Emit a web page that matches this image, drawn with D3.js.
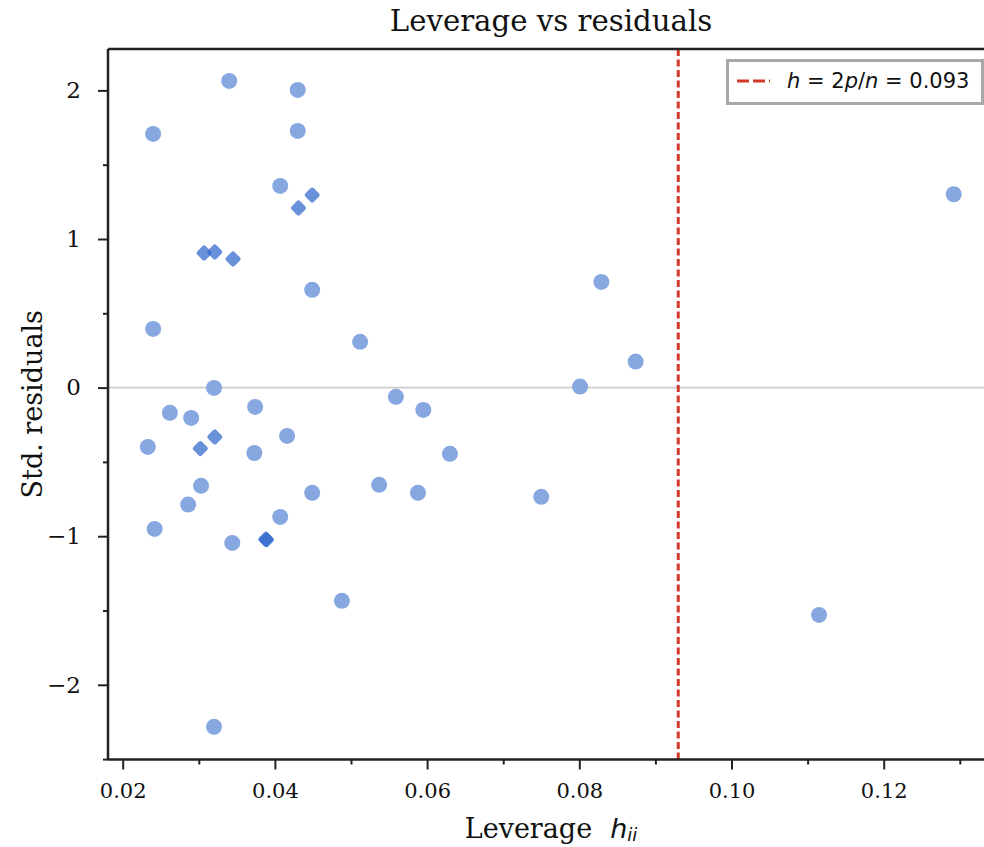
<!DOCTYPE html>
<html>
<head>
<meta charset="utf-8">
<script src="https://cdn.jsdelivr.net/npm/d3@7"></script>
<style>
  html, body { margin: 0; padding: 0; background: #fff; }
  svg { display: block; }
</style>
</head>
<body>
<div id="chart"></div>
<script>
// ---- data ----
const circleLeverage = [0.0340, 0.0430, 0.0240, 0.0430, 0.0407, 0.0449, 0.0240, 0.0512, 0.0829, 0.0874,
  0.0801, 0.1292, 0.0320, 0.0262, 0.0290, 0.0374, 0.0559, 0.0595, 0.0416, 0.0233,
  0.0373, 0.0630, 0.0303, 0.0449, 0.0537, 0.0588, 0.0750, 0.0286, 0.0242, 0.0407,
  0.0344, 0.0488, 0.0320, 0.1115];
const circleResidual = [2.064, 2.003, 1.707, 1.727, 1.357, 0.658, 0.395, 0.308, 0.711, 0.175,
  0.007, 1.301, -0.002, -0.170, -0.204, -0.130, -0.062, -0.150, -0.325, -0.399,
  -0.440, -0.446, -0.661, -0.708, -0.654, -0.708, -0.735, -0.787, -0.951, -0.870,
  -1.045, -1.435, -2.283, -1.530];
const diamondLeverage = [0.0449, 0.0431, 0.0307, 0.0321, 0.0345, 0.0321, 0.0302, 0.0388, 0.0389];
const diamondResidual = [1.296, 1.209, 0.906, 0.913, 0.866, -0.332, -0.410, -1.020, -1.024];
const xMajorTicks = [0.02, 0.04, 0.06, 0.08, 0.10, 0.12];
const xMinorTicks = [0.03, 0.05, 0.07, 0.09, 0.11, 0.13];
const yMajorTicks = [-2, -1, 0, 1, 2];
const yMinorTicks = [-2.5, -1.5, -0.5, 0.5, 1.5];
const leverageThreshold = 0.093;
const titleText = "Leverage vs residuals";
const yLabelText = "Std. residuals";

// ---- layout ----
const W = 984, H = 847;
const L = 108, T = 49, R = 994, B = 759.5;
const serif = "'DejaVu Serif', serif";
const sans = "'DejaVu Sans', sans-serif";

const svg = d3.select("#chart").append("svg")
  .attr("width", W).attr("height", H)
  .attr("viewBox", `0 0 ${W} ${H}`);

const x = d3.scaleLinear().domain([0.01807, 0.13449]).range([L, R]);
const y = d3.scaleLinear().domain([-2.5027, 2.2786]).range([B, T]);

svg.append("defs").append("clipPath").attr("id", "plotclip")
  .append("rect").attr("x", L).attr("y", T).attr("width", R - L).attr("height", B - T);

const plot = svg.append("g").attr("clip-path", "url(#plotclip)");

// zero line
plot.append("line")
  .attr("x1", L).attr("x2", R)
  .attr("y1", y(0)).attr("y2", y(0))
  .attr("stroke", "#cccccc").attr("stroke-width", 1.6);

// threshold line
plot.append("line")
  .attr("x1", x(leverageThreshold)).attr("x2", x(leverageThreshold))
  .attr("y1", T).attr("y2", B)
  .attr("stroke", "#d0392b").attr("stroke-width", 3)
  .attr("stroke-dasharray", "7,3.5");

// circles
const circles = circleLeverage.map((v, i) => ({ h: v, r: circleResidual[i] }));
plot.append("g").selectAll("circle").data(circles).join("circle")
  .attr("cx", d => x(d.h)).attr("cy", d => y(d.r)).attr("r", 8)
  .attr("fill", "#87a7e1");

// diamonds
const diamonds = diamondLeverage.map((v, i) => ({ h: v, r: diamondResidual[i] }));
plot.append("g").selectAll("rect").data(diamonds).join("rect")
  .attr("x", -6).attr("y", -6).attr("width", 12).attr("height", 12)
  .attr("rx", 2.5).attr("ry", 2.5)
  .attr("transform", d => `translate(${x(d.h)},${y(d.r)}) rotate(45)`)
  .attr("fill", "#2f66cc").attr("fill-opacity", 0.72);

// axes
function styleAxis(size) {
  return g => {
    g.select(".domain").remove();
    g.selectAll(".tick line").attr("stroke", "#222").attr("stroke-width", 2);
    g.selectAll(".tick text").attr("fill", "#111")
      .style("font-family", serif).style("font-size", size + "px");
  };
}
svg.append("g").attr("transform", `translate(0,${B})`)
  .call(d3.axisBottom(x).tickValues(xMajorTicks).tickSize(10).tickPadding(13.5)
    .tickFormat(d3.format(".2f")))
  .call(styleAxis(21));
svg.append("g").attr("transform", `translate(0,${B})`)
  .call(d3.axisBottom(x).tickValues(xMinorTicks).tickSize(5).tickFormat(""))
  .call(styleAxis(21));
svg.append("g").attr("transform", `translate(${L},0)`)
  .call(d3.axisLeft(y).tickValues(yMajorTicks).tickSize(10).tickPadding(17)
    .tickFormat(d3.format("d")))
  .call(styleAxis(23));
svg.append("g").attr("transform", `translate(${L},0)`)
  .call(d3.axisLeft(y).tickValues(yMinorTicks).tickSize(5).tickFormat(""))
  .call(styleAxis(23));

// spines
const spine = svg.append("g").attr("stroke", "#222").attr("stroke-width", 2.5).attr("fill", "none");
spine.append("line").attr("x1", L).attr("x2", L).attr("y1", T).attr("y2", B);
spine.append("line").attr("x1", L).attr("x2", R).attr("y1", T).attr("y2", T);
spine.append("line").attr("x1", L).attr("x2", R).attr("y1", B).attr("y2", B);
spine.append("line").attr("x1", R).attr("x2", R).attr("y1", T).attr("y2", B);

// title
svg.append("text").attr("x", 551).attr("y", 31)
  .attr("text-anchor", "middle")
  .style("font-family", serif).style("font-size", "29.2px").attr("fill", "#111")
  .text(titleText);

// x label
const xl = svg.append("text").attr("x", 551).attr("y", 838)
  .attr("text-anchor", "middle")
  .style("font-family", serif).style("font-size", "27px").attr("fill", "#111");
xl.append("tspan").text("Leverage");
xl.append("tspan").attr("dx", 18).style("font-family", sans).style("font-style", "italic").text("h");
xl.append("tspan").style("font-family", sans).style("font-style", "italic")
  .style("font-size", "18px").attr("dy", 3).text("ii");

// y label
svg.append("text")
  .attr("transform", `translate(42,${(T + B) / 2}) rotate(-90)`)
  .attr("text-anchor", "middle")
  .style("font-family", serif).style("font-size", "27px").attr("fill", "#111")
  .text(yLabelText);

// legend
const lg = svg.append("g");
lg.append("rect").attr("x", 727.5).attr("y", 60.5).attr("width", 255).attr("height", 43)
  .attr("fill", "#fff").attr("stroke", "#a8a8a8").attr("stroke-width", 3);
lg.append("line").attr("x1", 737).attr("x2", 770).attr("y1", 81).attr("y2", 81)
  .attr("stroke", "#d0392b").attr("stroke-width", 3).attr("stroke-dasharray", "12,4");
const lt = lg.append("text").attr("x", 787).attr("y", 88)
  .style("font-family", sans).style("font-size", "21px").attr("fill", "#111");
lt.append("tspan").style("font-style", "italic").text("h");
lt.append("tspan").text(" = 2");
lt.append("tspan").style("font-style", "italic").text("p");
lt.append("tspan").text("/");
lt.append("tspan").style("font-style", "italic").text("n");
lt.append("tspan").text(" = " + leverageThreshold.toFixed(3));
</script>
</body>
</html>
